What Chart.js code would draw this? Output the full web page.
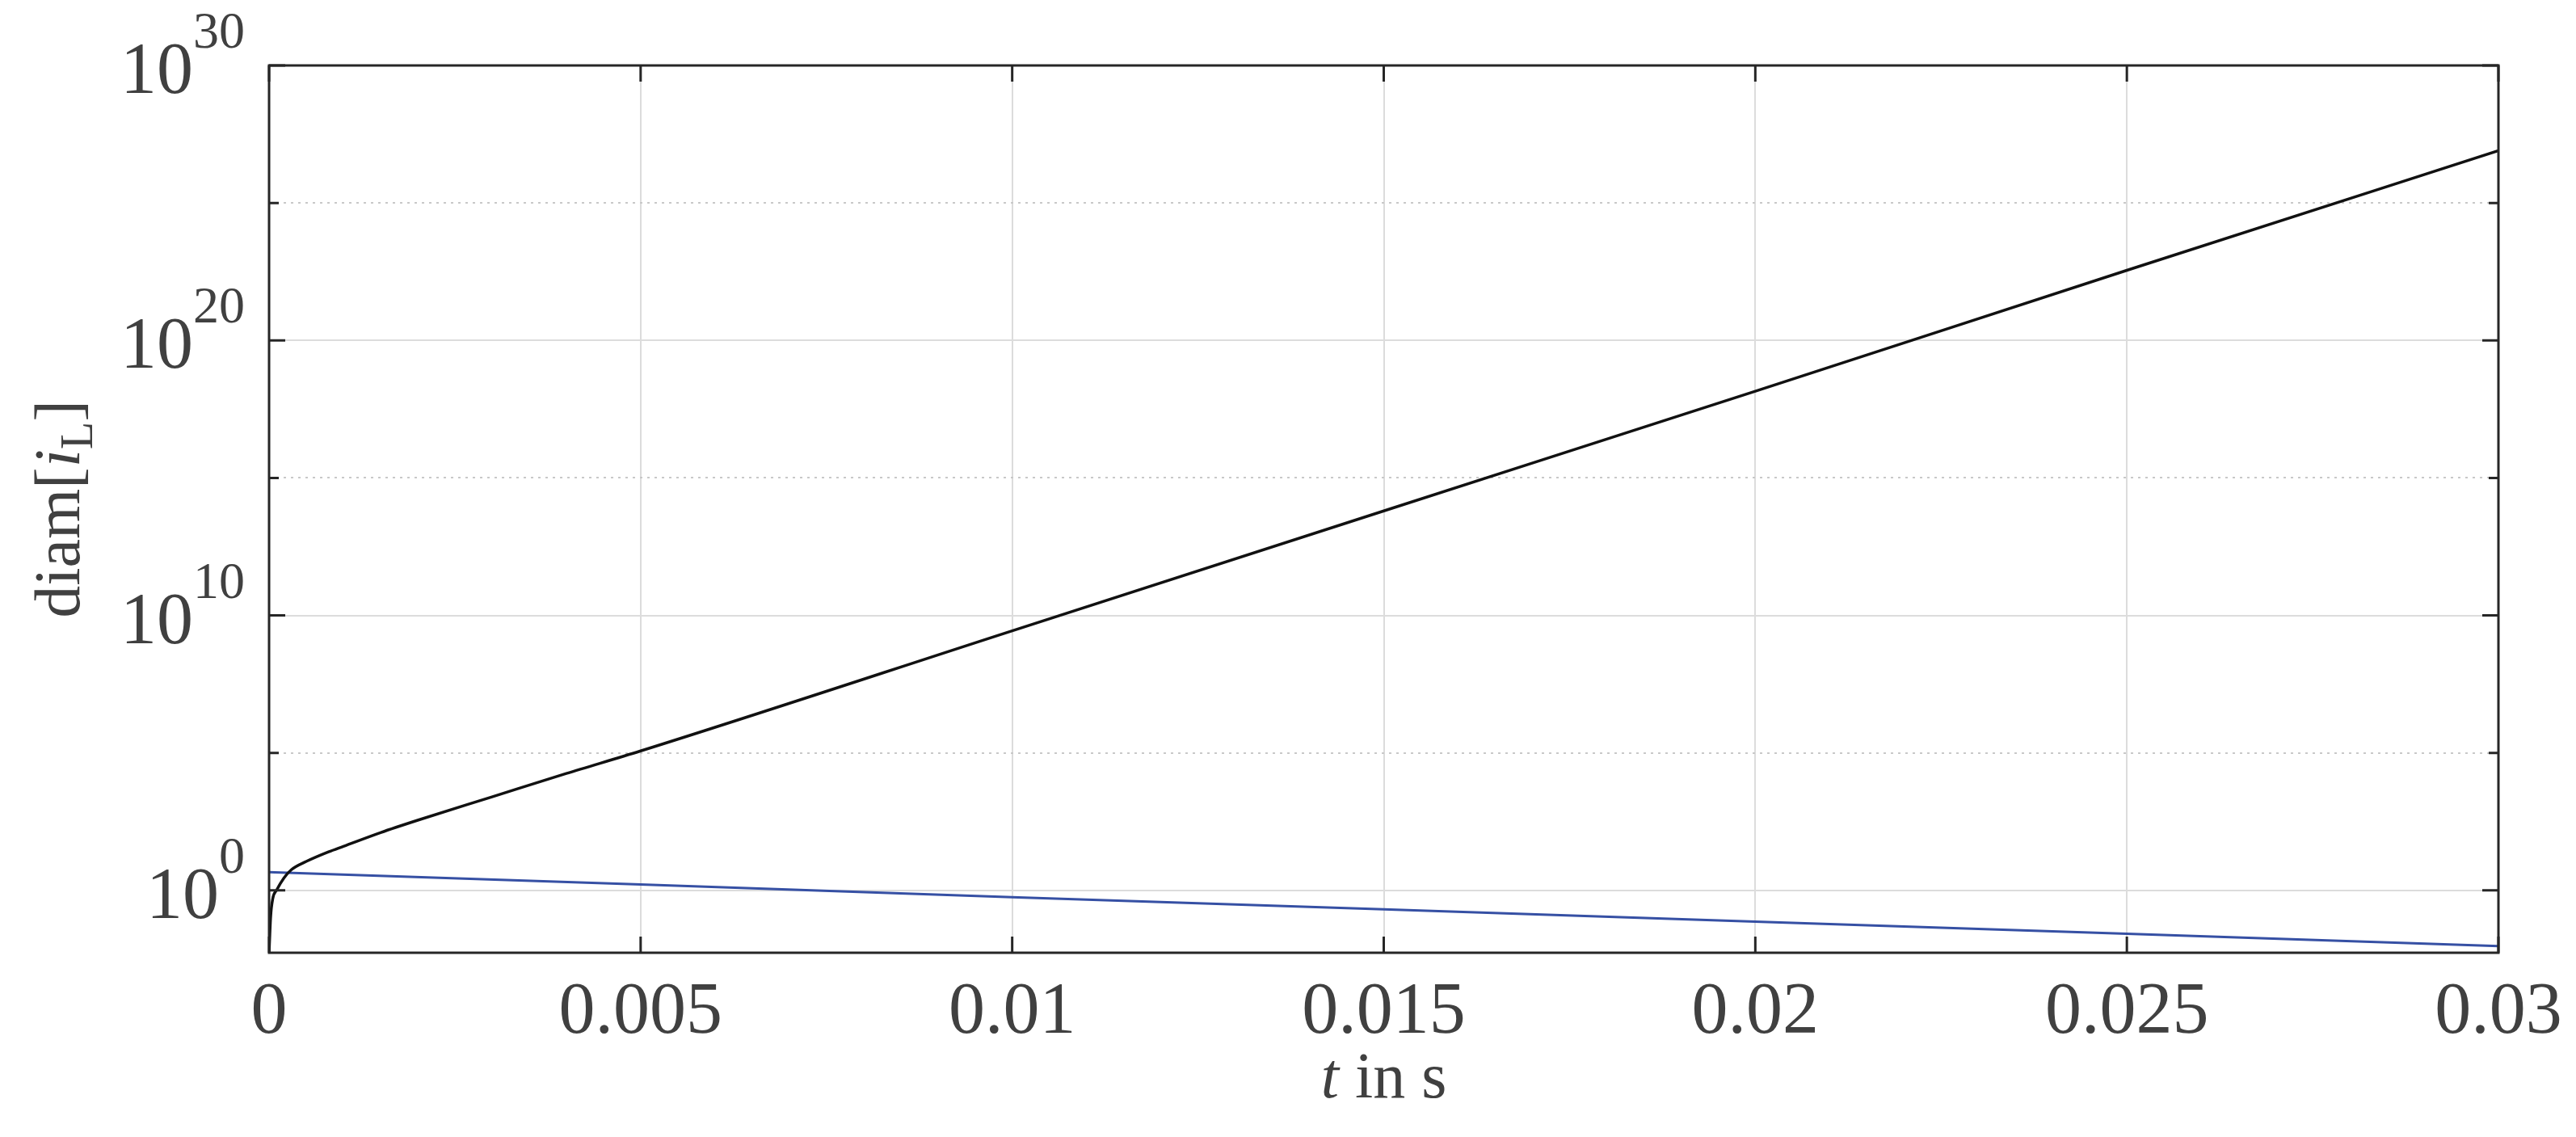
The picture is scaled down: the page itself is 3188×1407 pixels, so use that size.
<!DOCTYPE html>
<html>
<head>
<meta charset="utf-8">
<script src="https://cdn.jsdelivr.net/npm/chart.js@4.4.0/dist/chart.umd.min.js"></script>
<style>
  html, body { margin: 0; padding: 0; background: #fff; }
  #wrap { width: 3188px; height: 1407px; }
</style>
</head>
<body>
<div id="wrap"><canvas id="myChart"></canvas></div>
<script>
// values
const tBlack = [0, 0.00002, 0.00005, 0.0001, 0.0002, 0.0003, 0.0005, 0.0008, 0.001, 0.0015, 0.002, 0.003, 0.004, 0.005, 0.01, 0.015, 0.02, 0.025, 0.03];
const expBlack = [-2.3, -1.0, -0.3, 0.0, 0.45, 0.75, 1.05, 1.4, 1.6, 2.1, 2.55, 3.4, 4.25, 5.07, 9.44, 13.8, 18.15, 22.55, 26.9];
const tBlue = [0, 0.005, 0.01, 0.015, 0.02, 0.025, 0.03];
const expBlue = [0.66, 0.21, -0.25, -0.69, -1.14, -1.58, -2.03];
const xTicks = [0, 0.005, 0.01, 0.015, 0.02, 0.025, 0.03];
const xTickLabels = ['0', '0.005', '0.01', '0.015', '0.02', '0.025', '0.03'];
const yMajor = [0, 10, 20, 30];
const yMinor = [5, 15, 25];

const yMin = Math.pow(10, -2.27);
const yMax = 1e30;
const textCol = '#404040';
const serif = '"Liberation Serif", "DejaVu Serif", serif';

function pts(ts, es) {
    return ts.map((t, i) => ({x: t, y: Math.pow(10, es[i])}));
}

// box, tick marks and all text, MATLAB style
const decor = {
    id: 'decor',
    afterDraw(chart) {
        const c = chart.ctx;
        const a = chart.chartArea;
        const xs = chart.scales.x, ys = chart.scales.y;
        c.save();
        c.strokeStyle = '#262626';
        c.lineWidth = 3;
        c.strokeRect(a.left, a.top, a.right - a.left, a.bottom - a.top);
        const tl = 20;
        c.beginPath();
        xTicks.forEach(v => {
            const px = xs.getPixelForValue(v);
            c.moveTo(px, a.bottom); c.lineTo(px, a.bottom - tl);
            c.moveTo(px, a.top); c.lineTo(px, a.top + tl);
        });
        yMajor.forEach(e => {
            const py = ys.getPixelForValue(Math.pow(10, e));
            c.moveTo(a.left, py); c.lineTo(a.left + tl, py);
            c.moveTo(a.right, py); c.lineTo(a.right - tl, py);
        });
        yMinor.forEach(e => {
            const py = ys.getPixelForValue(Math.pow(10, e));
            c.moveTo(a.left, py); c.lineTo(a.left + tl * 0.6, py);
            c.moveTo(a.right, py); c.lineTo(a.right - tl * 0.6, py);
        });
        c.stroke();

        c.fillStyle = textCol;
        c.font = '90px ' + serif;
        c.textAlign = 'center';
        c.textBaseline = 'alphabetic';
        xTicks.forEach((v, i) => {
            c.fillText(xTickLabels[i], xs.getPixelForValue(v), 1278);
        });
        yMajor.forEach(e => {
            const py = ys.getPixelForValue(Math.pow(10, e));
            c.font = '64px ' + serif;
            c.textAlign = 'right';
            const sup = String(e);
            const sw = c.measureText(sup).width;
            c.fillText(sup, 303, py - 22);
            c.font = '90px ' + serif;
            c.fillText('10', 303 - sw, py + 34);
        });

        // x title: t in s
        c.textAlign = 'left';
        c.font = 'italic 80px ' + serif;
        const w1 = c.measureText('t').width;
        c.font = '80px ' + serif;
        const w2 = c.measureText(' in s').width;
        let x0 = (a.left + a.right) / 2 - (w1 + w2) / 2;
        c.font = 'italic 80px ' + serif;
        c.fillText('t', x0, 1358);
        c.font = '80px ' + serif;
        c.fillText(' in s', x0 + w1, 1358);

        // y title: diam[i_L]
        c.translate(98, (a.top + a.bottom) / 2);
        c.rotate(-Math.PI / 2);
        const parts = [['diam[', '80px '], ['i', 'italic 80px '], ['L', '56px '], [']', '80px ']];
        let tw = 0;
        parts.forEach(p => { c.font = p[1] + serif; tw += c.measureText(p[0]).width; });
        let px = -tw / 2;
        parts.forEach(p => {
            c.font = p[1] + serif;
            c.fillText(p[0], px, p[0] === 'L' ? 16 : 0);
            px += c.measureText(p[0]).width;
        });
        c.restore();
    }
};

const ctx = document.getElementById('myChart').getContext('2d');
const myChart = new Chart(ctx, {
    type: 'line',
    data: {
        datasets: [{
            data: pts(tBlack, expBlack),
            borderColor: '#111111',
            borderWidth: 3.5,
            pointRadius: 0,
            cubicInterpolationMode: 'monotone'
        }, {
            data: pts(tBlue, expBlue),
            borderColor: '#3650a4',
            borderWidth: 3,
            pointRadius: 0
        }]
    },
    options: {
        responsive: true,
        maintainAspectRatio: false,
        animation: false,
        layout: { padding: { left: 333, right: 96, top: 81, bottom: 228 } },
        plugins: { legend: { display: false }, tooltip: { enabled: false } },
        scales: {
            x: {
                type: 'linear', min: 0, max: 0.03,
                afterBuildTicks: s => { s.ticks = xTicks.map(v => ({value: v})); },
                ticks: { display: false },
                grid: { color: '#dcdcdc', lineWidth: 2, drawTicks: false },
                border: { display: false }
            },
            y: {
                type: 'logarithmic', min: yMin, max: yMax,
                afterBuildTicks: s => { s.ticks = yMajor.map(e => ({value: Math.pow(10, e)})); },
                ticks: { display: false },
                grid: { color: '#dcdcdc', lineWidth: 2, drawTicks: false },
                border: { display: false }
            },
            y2: {
                type: 'logarithmic', min: yMin, max: yMax, position: 'left',
                afterBuildTicks: s => { s.ticks = yMinor.map(e => ({value: Math.pow(10, e)})); },
                ticks: { display: false },
                grid: { color: '#c8c8c8', lineWidth: 2, drawTicks: false },
                border: { display: false, dash: [3, 6] }
            }
        }
    },
    plugins: [decor]
});
</script>
</body>
</html>
